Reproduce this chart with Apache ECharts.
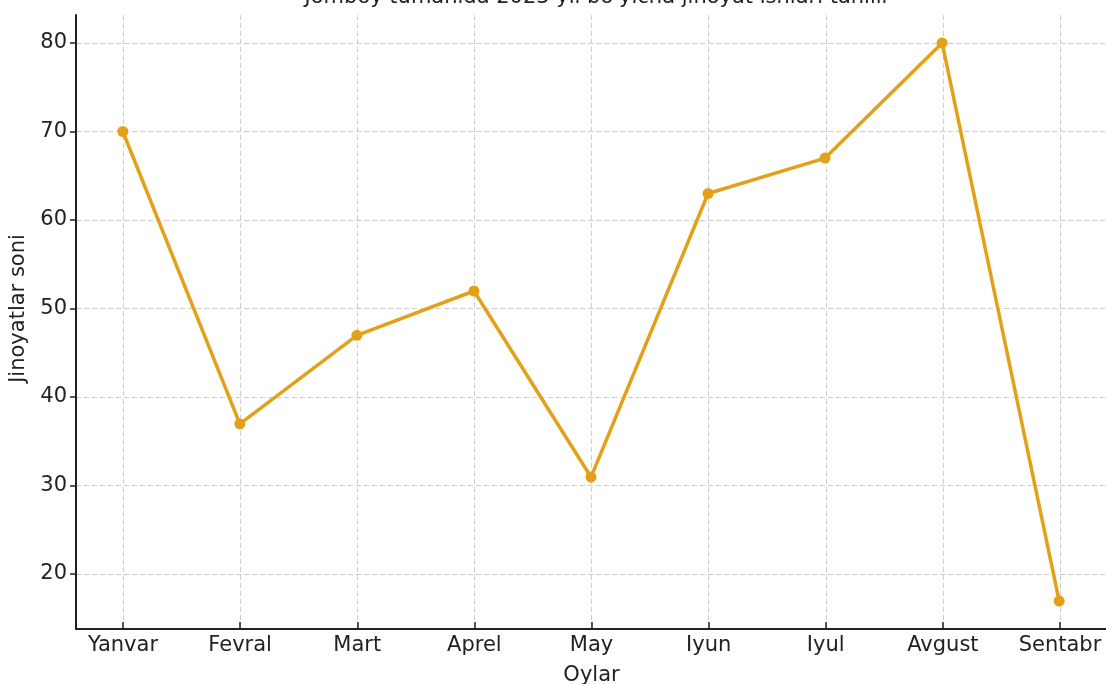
<!DOCTYPE html>
<html>
<head>
<meta charset="utf-8">
<script src="https://cdn.jsdelivr.net/npm/echarts@6/dist/echarts.min.js"></script>
<style>
  html, body { margin: 0; padding: 0; background: #fff; }
  #chart { width: 1106px; height: 684px; }
</style>
</head>
<body>
<div id="chart"></div>
<script>
// oylar va jinoyatlar soni
var months = ['Yanvar', 'Fevral', 'Mart', 'Aprel', 'May', 'Iyun', 'Iyul', 'Avgust', 'Sentabr'];
var crimes = [70, 37, 47, 52, 31, 63, 67, 80, 17];
var yTicks = [20, 30, 40, 50, 60, 70, 80];

var font = 'DejaVu Sans';
var lineColor = '#e3a11a';

var chart = echarts.init(document.getElementById('chart'));

chart.setOption({
  animation: false,
  title: {
    text: "Jomboy tumanida 2023 yil bo'yicha jinoyat ishlari tahlili",
    left: 591,
    top: -18,
    textAlign: 'center',
    textStyle: { fontFamily: font, fontSize: 21, fontWeight: 'normal', color: '#222' }
  },
  grid: [
    // asosiy chizma maydoni
    { left: 76, right: 0, top: 15, bottom: 55, outerBoundsMode: 'none' },
    // vertikal setka va oy nomlari
    { left: 123, right: 46, top: 15, bottom: 55, outerBoundsMode: 'none' },
    // gorizontal setka va y belgilari
    { left: 76, right: 0, top: 43, bottom: 110, outerBoundsMode: 'none' }
  ],
  xAxis: [
    {
      gridIndex: 0, type: 'value', min: -0.4, max: 8.4,
      axisLine: { show: true, onZero: false, lineStyle: { color: '#222', width: 2 } },
      axisTick: { show: false }, axisLabel: { show: false }, splitLine: { show: false }
    },
    {
      gridIndex: 1, type: 'category', data: months, boundaryGap: false,
      name: 'Oylar', nameLocation: 'middle', nameGap: 36,
      nameTextStyle: { fontFamily: font, fontSize: 21, color: '#222' },
      axisLine: { show: false },
      axisTick: { show: true, inside: true, length: 7, lineStyle: { color: '#222', width: 1.5 } },
      axisLabel: { fontFamily: font, fontSize: 21, color: '#222', margin: 6 },
      splitLine: { show: true, lineStyle: { color: '#cccccc', type: [5, 3], width: 1 } }
    },
    {
      gridIndex: 2, type: 'value', min: 0, max: 1, show: false
    }
  ],
  yAxis: [
    {
      gridIndex: 0, type: 'value', min: 13.85, max: 83.15,
      axisLine: { show: true, onZero: false, lineStyle: { color: '#222', width: 2 } },
      axisTick: { show: false }, axisLabel: { show: false }, splitLine: { show: false }
    },
    {
      gridIndex: 1, type: 'value', min: 0, max: 1, show: false
    },
    {
      gridIndex: 2, type: 'value', min: yTicks[0], max: yTicks[yTicks.length - 1], interval: 10,
      name: 'Jinoyatlar soni', nameLocation: 'middle', nameGap: 44, nameRotate: 90,
      nameTextStyle: { fontFamily: font, fontSize: 21, color: '#222' },
      axisLine: { show: false },
      axisTick: { show: true, length: 6, lineStyle: { color: '#222', width: 1.5 } },
      axisLabel: { fontFamily: font, fontSize: 21, color: '#222', margin: 9 },
      splitLine: { show: true, lineStyle: { color: '#cccccc', type: [5, 3], width: 1 } }
    }
  ],
  series: [
    {
      type: 'line',
      xAxisIndex: 0,
      yAxisIndex: 0,
      data: crimes.map(function (v, i) { return [i, v]; }),
      symbol: 'circle',
      symbolSize: 11,
      lineStyle: { color: lineColor, width: 3.5 },
      itemStyle: { color: lineColor },
      z: 5
    }
  ]
});
</script>
</body>
</html>
